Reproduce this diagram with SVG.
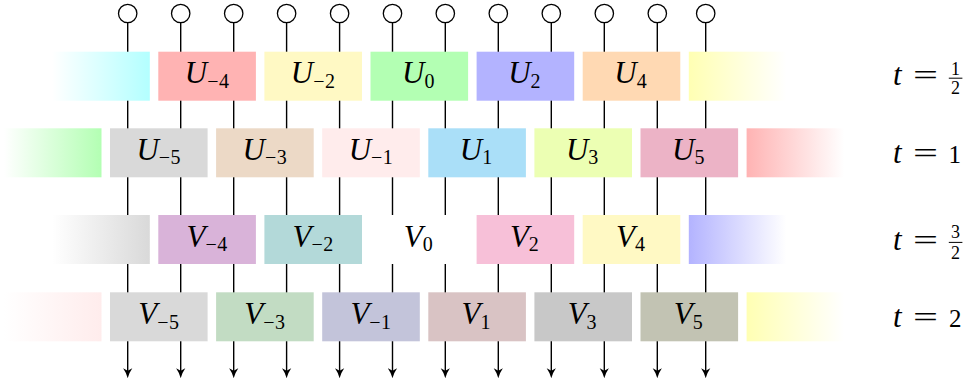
<svg xmlns="http://www.w3.org/2000/svg" width="966" height="381" viewBox="0 0 966 381">
<defs>
<marker id="arr" viewBox="0 0 10 10" refX="5.7" refY="5" markerWidth="10" markerHeight="10" markerUnits="userSpaceOnUse" orient="auto">
<path d="M0,0.4 Q4.5,3.6 10,5 Q4.5,6.4 0,9.6 L2.4,5 Z" fill="#000"/>
</marker>
<linearGradient id="gL-cyan" x1="0" y1="0" x2="1" y2="0"><stop offset="0" stop-color="#fff"/><stop offset="1" stop-color="#b3ffff"/></linearGradient>
<linearGradient id="gL-green" x1="0" y1="0" x2="1" y2="0"><stop offset="0" stop-color="#fff"/><stop offset="1" stop-color="#b3ffb3"/></linearGradient>
<linearGradient id="gL-gray" x1="0" y1="0" x2="1" y2="0"><stop offset="0" stop-color="#fff"/><stop offset="1" stop-color="#d9d9d9"/></linearGradient>
<linearGradient id="gL-pink" x1="0" y1="0" x2="1" y2="0"><stop offset="0" stop-color="#fff"/><stop offset="1" stop-color="#ffecec"/></linearGradient>
<linearGradient id="gR-yellow" x1="0" y1="0" x2="1" y2="0"><stop offset="0" stop-color="#ffffb3"/><stop offset="1" stop-color="#fff"/></linearGradient>
<linearGradient id="gR-red" x1="0" y1="0" x2="1" y2="0"><stop offset="0" stop-color="#ffb3b3"/><stop offset="1" stop-color="#fff"/></linearGradient>
<linearGradient id="gR-blue" x1="0" y1="0" x2="1" y2="0"><stop offset="0" stop-color="#b3b3ff"/><stop offset="1" stop-color="#fff"/></linearGradient>
</defs>
<style>
.wire{stroke:#000;stroke-width:1.4;fill:none;marker-end:url(#arr)}
.io{fill:#fff;stroke:#000;stroke-width:1.3}
.box{stroke:none}
.lbl{font-size:31px;text-anchor:middle}
.m{font-style:italic}
.s{font-size:20px;font-style:normal;letter-spacing:0.5px}
.ti{font-style:italic;font-size:31px}
.eq{font-size:29px}
.d1{font-size:25px;text-anchor:middle}
.fr{font-size:18px;text-anchor:middle}
.bar{stroke:#000;stroke-width:1}
</style>

<g id="connectors">
<line class="wire" x1="127.7" y1="22.8" x2="127.7" y2="374"/>
<line class="wire" x1="180.7" y1="22.8" x2="180.7" y2="374"/>
<line class="wire" x1="233.7" y1="22.8" x2="233.7" y2="374"/>
<line class="wire" x1="286.6" y1="22.8" x2="286.6" y2="374"/>
<line class="wire" x1="339.6" y1="22.8" x2="339.6" y2="374"/>
<line class="wire" x1="392.5" y1="22.8" x2="392.5" y2="374"/>
<line class="wire" x1="445.3" y1="22.8" x2="445.3" y2="374"/>
<line class="wire" x1="498.3" y1="22.8" x2="498.3" y2="374"/>
<line class="wire" x1="551.3" y1="22.8" x2="551.3" y2="374"/>
<line class="wire" x1="604.3" y1="22.8" x2="604.3" y2="374"/>
<line class="wire" x1="657.3" y1="22.8" x2="657.3" y2="374"/>
<line class="wire" x1="705.7" y1="22.8" x2="705.7" y2="374"/>
</g>

<g id="inputs">
<g id="in1"><circle class="io" cx="127.7" cy="13.5" r="9.2"/></g>
<g id="in2"><circle class="io" cx="180.7" cy="13.5" r="9.2"/></g>
<g id="in3"><circle class="io" cx="233.7" cy="13.5" r="9.2"/></g>
<g id="in4"><circle class="io" cx="286.6" cy="13.5" r="9.2"/></g>
<g id="in5"><circle class="io" cx="339.6" cy="13.5" r="9.2"/></g>
<g id="in6"><circle class="io" cx="392.5" cy="13.5" r="9.2"/></g>
<g id="in7"><circle class="io" cx="445.3" cy="13.5" r="9.2"/></g>
<g id="in8"><circle class="io" cx="498.3" cy="13.5" r="9.2"/></g>
<g id="in9"><circle class="io" cx="551.3" cy="13.5" r="9.2"/></g>
<g id="in10"><circle class="io" cx="604.3" cy="13.5" r="9.2"/></g>
<g id="in11"><circle class="io" cx="657.3" cy="13.5" r="9.2"/></g>
<g id="in12"><circle class="io" cx="705.7" cy="13.5" r="9.2"/></g>
</g>

<g font-family="Liberation Serif, serif" fill="#000">
<!-- Row t = 1/2 -->
<g id="U_fade_left"><rect class="box" x="52.2" y="51.7" width="97.6" height="49" fill="url(#gL-cyan)"/></g>
<g id="U_m4"><rect class="box" x="158.3" y="51.7" width="97.6" height="49" fill="#ffb3b3"/>
<text class="lbl" x="207.1" y="83.3"><tspan class="m">U</tspan><tspan class="s" dy="4.5">−4</tspan></text></g>
<g id="U_m2"><rect class="box" x="264.4" y="51.7" width="97.6" height="49" fill="#fff9c4"/>
<text class="lbl" x="313.2" y="83.3"><tspan class="m">U</tspan><tspan class="s" dy="4.5">−2</tspan></text></g>
<g id="U_0"><rect class="box" x="370.5" y="51.7" width="97.6" height="49" fill="#b3ffb3"/>
<text class="lbl" x="418.5" y="83.3"><tspan class="m">U</tspan><tspan class="s" dy="4.5">0</tspan></text></g>
<g id="U_2"><rect class="box" x="476.6" y="51.7" width="97.6" height="49" fill="#b3b3ff"/>
<text class="lbl" x="524.6" y="83.3"><tspan class="m">U</tspan><tspan class="s" dy="4.5">2</tspan></text></g>
<g id="U_4"><rect class="box" x="582.7" y="51.7" width="97.6" height="49" fill="#ffd9b3"/>
<text class="lbl" x="630.7" y="83.3"><tspan class="m">U</tspan><tspan class="s" dy="4.5">4</tspan></text></g>
<g id="U_fade_right"><rect class="box" x="688.8" y="51.7" width="97.6" height="49" fill="url(#gR-yellow)"/></g>

<!-- Row t = 1 -->
<g id="U_fade_left2"><rect class="box" x="3.9" y="128.3" width="97.6" height="49" fill="url(#gL-green)"/></g>
<g id="U_m5"><rect class="box" x="110" y="128.3" width="97.6" height="49" fill="#d9d9d9"/>
<text class="lbl" x="158.8" y="159.5"><tspan class="m">U</tspan><tspan class="s" dy="4.5">−5</tspan></text></g>
<g id="U_m3"><rect class="box" x="216.1" y="128.3" width="97.6" height="49" fill="#ecd9c6"/>
<text class="lbl" x="264.9" y="159.5"><tspan class="m">U</tspan><tspan class="s" dy="4.5">−3</tspan></text></g>
<g id="U_m1"><rect class="box" x="322.2" y="128.3" width="97.6" height="49" fill="#ffecec"/>
<text class="lbl" x="371" y="159.5"><tspan class="m">U</tspan><tspan class="s" dy="4.5">−1</tspan></text></g>
<g id="U_1"><rect class="box" x="428.3" y="128.3" width="97.6" height="49" fill="#aadff8"/>
<text class="lbl" x="476.3" y="159.5"><tspan class="m">U</tspan><tspan class="s" dy="4.5">1</tspan></text></g>
<g id="U_3"><rect class="box" x="534.4" y="128.3" width="97.6" height="49" fill="#ecffb3"/>
<text class="lbl" x="582.4" y="159.5"><tspan class="m">U</tspan><tspan class="s" dy="4.5">3</tspan></text></g>
<g id="U_5"><rect class="box" x="640.5" y="128.3" width="97.6" height="49" fill="#ecb3c6"/>
<text class="lbl" x="688.5" y="159.5"><tspan class="m">U</tspan><tspan class="s" dy="4.5">5</tspan></text></g>
<g id="U_fade_right2"><rect class="box" x="746.6" y="128.3" width="97.6" height="49" fill="url(#gR-red)"/></g>

<!-- Row t = 3/2 -->
<g id="V_fade_left"><rect class="box" x="52.2" y="215" width="97.6" height="49" fill="url(#gL-gray)"/></g>
<g id="V_m4"><rect class="box" x="158.3" y="215" width="97.6" height="49" fill="#d9b3d9"/>
<text class="lbl" x="207.1" y="246.8"><tspan class="m">V</tspan><tspan class="s" dy="4.5">−4</tspan></text></g>
<g id="V_m2"><rect class="box" x="264.4" y="215" width="97.6" height="49" fill="#b3d9d9"/>
<text class="lbl" x="313.2" y="246.8"><tspan class="m">V</tspan><tspan class="s" dy="4.5">−2</tspan></text></g>
<g id="V_0"><rect class="box" x="370.5" y="215" width="97.6" height="49" fill="#fff"/>
<text class="lbl" x="418.5" y="246.8"><tspan class="m">V</tspan><tspan class="s" dy="4.5">0</tspan></text></g>
<g id="V_2"><rect class="box" x="476.6" y="215" width="97.6" height="49" fill="#f7c0d8"/>
<text class="lbl" x="524.6" y="246.8"><tspan class="m">V</tspan><tspan class="s" dy="4.5">2</tspan></text></g>
<g id="V_4"><rect class="box" x="582.7" y="215" width="97.6" height="49" fill="#fff9c4"/>
<text class="lbl" x="630.7" y="246.8"><tspan class="m">V</tspan><tspan class="s" dy="4.5">4</tspan></text></g>
<g id="V_fade_right"><rect class="box" x="688.8" y="215" width="97.6" height="49" fill="url(#gR-blue)"/></g>

<!-- Row t = 2 -->
<g id="V_fade_left2"><rect class="box" x="3.9" y="292.3" width="97.6" height="49" fill="url(#gL-pink)"/></g>
<g id="V_m5"><rect class="box" x="110" y="292.3" width="97.6" height="49" fill="#d9d9d9"/>
<text class="lbl" x="158.8" y="324"><tspan class="m">V</tspan><tspan class="s" dy="4.5">−5</tspan></text></g>
<g id="V_m3"><rect class="box" x="216.1" y="292.3" width="97.6" height="49" fill="#c2dcc3"/>
<text class="lbl" x="264.9" y="324"><tspan class="m">V</tspan><tspan class="s" dy="4.5">−3</tspan></text></g>
<g id="V_m1"><rect class="box" x="322.2" y="292.3" width="97.6" height="49" fill="#c3c4da"/>
<text class="lbl" x="371" y="324"><tspan class="m">V</tspan><tspan class="s" dy="4.5">−1</tspan></text></g>
<g id="V_1"><rect class="box" x="428.3" y="292.3" width="97.6" height="49" fill="#d9c3c4"/>
<text class="lbl" x="476.3" y="324"><tspan class="m">V</tspan><tspan class="s" dy="4.5">1</tspan></text></g>
<g id="V_3"><rect class="box" x="534.4" y="292.3" width="97.6" height="49" fill="#c8c8c8"/>
<text class="lbl" x="582.4" y="324"><tspan class="m">V</tspan><tspan class="s" dy="4.5">3</tspan></text></g>
<g id="V_5"><rect class="box" x="640.5" y="292.3" width="97.6" height="49" fill="#c2c3b3"/>
<text class="lbl" x="688.5" y="324"><tspan class="m">V</tspan><tspan class="s" dy="4.5">5</tspan></text></g>
<g id="V_fade_right2"><rect class="box" x="746.6" y="292.3" width="97.6" height="49" fill="url(#gR-yellow)"/></g>

<!-- time labels -->
<g id="t_half">
<text class="ti" x="893" y="85">t</text>
<text class="eq" x="913" y="85" textLength="25" lengthAdjust="spacingAndGlyphs">=</text>
<text class="fr" x="955.6" y="75">1</text>
<line class="bar" x1="948.8" y1="78.2" x2="962.4" y2="78.2"/>
<text class="fr" x="955.6" y="93.5">2</text>
</g>
<g id="t_one">
<text class="ti" x="893" y="163.3">t</text>
<text class="eq" x="913" y="163.3" textLength="25" lengthAdjust="spacingAndGlyphs">=</text>
<text class="d1" x="954.8" y="163.3">1</text>
</g>
<g id="t_threehalf">
<text class="ti" x="893" y="250">t</text>
<text class="eq" x="913" y="250" textLength="25" lengthAdjust="spacingAndGlyphs">=</text>
<text class="fr" x="955.6" y="238.3">3</text>
<line class="bar" x1="948.8" y1="242.4" x2="962.4" y2="242.4"/>
<text class="fr" x="955.6" y="258.5">2</text>
</g>
<g id="t_two">
<text class="ti" x="893" y="326.7">t</text>
<text class="eq" x="913" y="326.7" textLength="25" lengthAdjust="spacingAndGlyphs">=</text>
<text class="d1" x="955.2" y="326.7">2</text>
</g>
</g>
</svg>
